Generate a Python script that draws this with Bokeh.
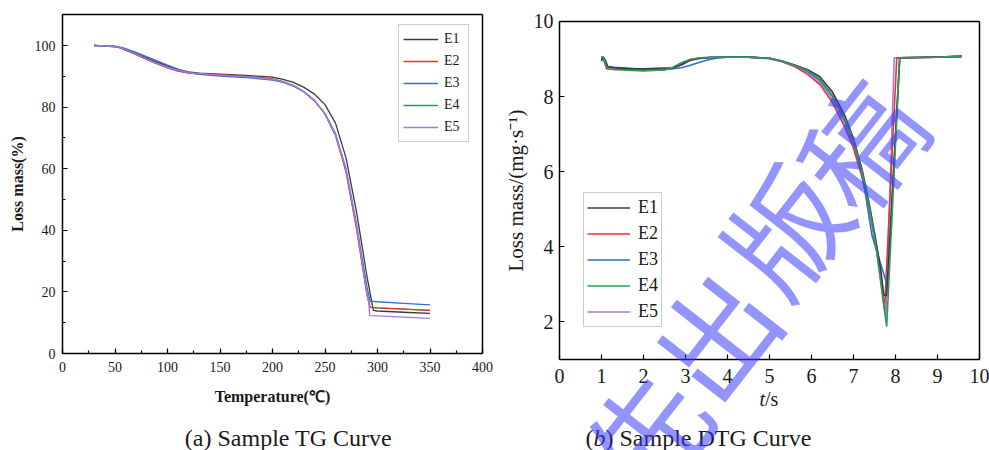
import math
from bokeh.plotting import figure
from bokeh.models import (Range1d, SingleIntervalTicker, FixedTicker, Label, Legend,
                          LegendItem, LinearAxis)
from bokeh.layouts import row
from bokeh.embed import file_html
from bokeh.resources import INLINE

SERIES = ["E1", "E2", "E3", "E4", "E5"]
COLORS = ["#3b3b3b", "#e0383c", "#2f6fd6", "#2e9a5c", "#a87adc"]

# ---------- (a) TG data: temperature (°C) vs loss mass (%) ----------
TG_T = {
    "E1": [30, 40, 50, 55, 60, 70, 80, 90, 100, 110, 120, 130, 150, 175, 200, 210, 220, 230, 240, 250, 260, 270, 280, 290, 296, 300, 325, 350],
    "E2": [30, 40, 50, 55, 60, 70, 80, 90, 100, 110, 120, 130, 150, 175, 200, 210, 220, 230, 240, 250, 260, 270, 280, 290, 293, 300, 325, 350],
    "E3": [30, 40, 50, 55, 60, 70, 80, 90, 100, 110, 120, 130, 150, 175, 200, 210, 220, 230, 240, 250, 260, 270, 280, 290, 293, 300, 325, 350],
    "E4": [30, 40, 50, 55, 60, 70, 80, 90, 100, 110, 120, 130, 150, 175, 200, 210, 220, 230, 240, 250, 260, 270, 280, 290, 293, 300, 325, 350],
    "E5": [30, 40, 50, 55, 60, 70, 80, 90, 100, 110, 120, 130, 150, 175, 200, 210, 220, 230, 240, 250, 260, 270, 280, 290, 291.7, 292.5, 300, 325, 350],
}
TG_V = {
    "E1": [100, 99.9, 99.7, 99.4, 98.8, 97.4, 96.0, 94.6, 93.3, 92.2, 91.4, 91.0, 90.7, 90.3, 89.7, 89.0, 88.0, 86.4, 84.2, 80.8, 74.8, 63.5, 46.0, 25.0, 14.0, 13.8, 13.4, 13.0],
    "E2": [100, 99.9, 99.6, 99.2, 98.5, 97.0, 95.5, 94.0, 92.7, 91.7, 91.0, 90.8, 90.5, 90.0, 89.2, 88.3, 87.0, 85.0, 82.2, 77.8, 70.8, 59.0, 40.5, 19.0, 15.0, 14.8, 14.4, 14.0],
    "E3": [100, 99.9, 99.8, 99.5, 99.0, 97.8, 96.4, 95.0, 93.6, 92.3, 91.3, 90.6, 90.1, 89.6, 88.8, 88.0, 86.8, 84.9, 82.0, 77.9, 71.4, 60.0, 42.0, 21.5, 17.0, 16.8, 16.3, 15.8],
    "E4": [100, 99.9, 99.6, 99.2, 98.6, 97.1, 95.6, 94.1, 92.8, 91.8, 91.1, 90.8, 90.5, 90.0, 89.1, 88.3, 87.0, 85.0, 82.1, 77.8, 70.9, 59.3, 41.0, 19.2, 15.0, 14.8, 14.4, 14.0],
    "E5": [100, 99.9, 99.6, 99.3, 98.7, 97.2, 95.7, 94.2, 92.9, 91.9, 91.2, 90.9, 90.4, 89.9, 89.0, 88.2, 87.0, 85.0, 82.1, 77.9, 71.0, 59.8, 41.5, 19.5, 16.7, 12.3, 12.2, 11.8, 11.4],
}

# ---------- (b) DTG data: time (s) vs loss mass rate (mg/s) ----------
DTG_T = {
    "E1": [1.0, 1.04, 1.1, 1.15, 1.3, 1.6, 2.0, 2.5, 2.7, 2.9, 3.1, 3.3, 3.6, 4.0, 4.5, 5.0, 5.3, 5.6, 5.9, 6.2, 6.5, 6.8, 7.0, 7.2, 7.4, 7.55, 7.65, 7.72, 7.79, 8.1, 8.5, 9.0, 9.58],
    "E2": [1.0, 1.05, 1.12, 1.3, 1.6, 2.0, 2.5, 2.7, 2.9, 3.1, 3.3, 3.6, 4.0, 4.5, 5.0, 5.3, 5.6, 5.9, 6.2, 6.5, 6.8, 7.0, 7.2, 7.4, 7.55, 7.65, 7.74, 8.03, 8.5, 9.0, 9.58],
    "E3": [1.0, 1.06, 1.12, 1.3, 1.6, 2.0, 2.5, 2.7, 2.9, 3.1, 3.3, 3.5, 3.75, 4.0, 4.5, 5.0, 5.3, 5.6, 5.9, 6.2, 6.5, 6.8, 7.0, 7.2, 7.44, 7.81, 8.1, 8.5, 9.0, 9.58],
    "E4": [1.0, 1.06, 1.13, 1.3, 1.6, 2.0, 2.5, 2.7, 2.9, 3.1, 3.3, 3.6, 4.0, 4.5, 5.0, 5.3, 5.6, 5.9, 6.2, 6.5, 6.8, 7.0, 7.2, 7.4, 7.55, 7.7, 7.79, 8.1, 8.5, 9.0, 9.58],
    "E5": [1.0, 1.05, 1.12, 1.3, 1.6, 2.0, 2.5, 2.7, 2.9, 3.1, 3.3, 3.6, 4.0, 4.5, 5.0, 5.3, 5.6, 5.9, 6.2, 6.5, 6.8, 7.0, 7.2, 7.4, 7.55, 7.7, 7.77, 7.97, 8.5, 9.0, 9.58],
}
DTG_V = {
    "E1": [8.95, 9.06, 8.95, 8.8, 8.77, 8.75, 8.74, 8.76, 8.76, 8.84, 8.96, 9.01, 9.04, 9.05, 9.05, 9.02, 8.95, 8.84, 8.72, 8.53, 8.12, 7.48, 6.88, 6.08, 5.0, 4.05, 3.38, 2.72, 2.70, 9.03, 9.04, 9.05, 9.07],
    "E2": [9.02, 9.0, 8.74, 8.72, 8.72, 8.7, 8.72, 8.76, 8.86, 8.97, 9.02, 9.04, 9.05, 9.05, 9.01, 8.93, 8.8, 8.6, 8.32, 7.84, 7.17, 6.62, 5.87, 4.87, 3.97, 3.22, 2.35, 9.03, 9.04, 9.05, 9.07],
    "E3": [9.05, 8.95, 8.8, 8.78, 8.76, 8.73, 8.72, 8.74, 8.77, 8.83, 8.9, 8.97, 9.03, 9.05, 9.05, 9.02, 8.94, 8.83, 8.68, 8.44, 8.0, 7.34, 6.8, 6.0, 4.3, 2.95, 9.03, 9.04, 9.05, 9.07],
    "E4": [9.08, 9.02, 8.74, 8.72, 8.7, 8.68, 8.71, 8.78, 8.9, 8.99, 9.03, 9.05, 9.05, 9.05, 9.02, 8.95, 8.83, 8.7, 8.47, 8.03, 7.4, 6.84, 6.02, 4.92, 3.92, 2.6, 1.88, 9.03, 9.04, 9.05, 9.07],
    "E5": [8.98, 9.05, 8.78, 8.75, 8.73, 8.71, 8.73, 8.77, 8.88, 8.98, 9.02, 9.04, 9.05, 9.05, 9.02, 8.94, 8.81, 8.65, 8.38, 7.92, 7.26, 6.7, 5.9, 4.86, 3.86, 2.7, 2.1, 9.03, 9.04, 9.05, 9.07],
}

WATERMARK = ["先", "出", "版", "稿"]

SERIF = "Liberation Serif"
INK = "#1a1a1a"


def style_axis(ax, tick_size, tick_in, minor_in):
    ax.axis_line_color = "black"
    ax.axis_line_width = 1.5
    ax.major_tick_line_color = "black"
    ax.major_tick_line_width = 1.2
    ax.minor_tick_line_color = "black"
    ax.minor_tick_line_width = 1.2
    ax.major_tick_in = tick_in
    ax.major_tick_out = 0
    ax.minor_tick_in = minor_in
    ax.minor_tick_out = 0
    ax.major_label_text_font = SERIF
    ax.major_label_text_font_size = tick_size
    ax.major_label_text_color = INK
    ax.axis_label_text_font = SERIF
    ax.axis_label_text_color = INK


def frame_edges(p, x_end, y_end, xbounds, ybounds):
    kw = dict(ticker=FixedTicker(ticks=[]), axis_line_width=1.5, axis_line_color="black",
              major_tick_in=0, major_tick_out=0, minor_tick_in=0, minor_tick_out=0)
    p.add_layout(LinearAxis(fixed_location=y_end, bounds=xbounds, **kw), "above")
    p.add_layout(LinearAxis(fixed_location=x_end, bounds=ybounds, **kw), "right")


# ================= Panel (a) =================
# the plot frame covers the whole canvas; axes are drawn at fixed data locations
p1 = figure(width=500, height=450, x_range=Range1d(-59.05, 417.14), y_range=Range1d(-31.49, 114.61),
            output_backend="svg", toolbar_location=None,
            min_border_left=0, min_border_right=0, min_border_top=0, min_border_bottom=0)
p1.xgrid.visible = False
p1.ygrid.visible = False
p1.outline_line_color = None
xa1, ya1 = p1.xaxis[0], p1.yaxis[0]
style_axis(xa1, "14px", 5, 3)
style_axis(ya1, "14px", 5, 3)
xa1.fixed_location = 0
ya1.fixed_location = 0
xa1.bounds = (0, 400)
ya1.bounds = (0, 110)
xa1.ticker = SingleIntervalTicker(interval=50, num_minor_ticks=2)
ya1.ticker = SingleIntervalTicker(interval=20, num_minor_ticks=2)
xa1.axis_label = "Temperature(℃)"
ya1.axis_label = "Loss mass(%)"
for ax in (xa1, ya1):
    ax.axis_label_text_font_style = "bold"
    ax.axis_label_text_font_size = "16px"
xa1.major_label_standoff = 8
ya1.major_label_standoff = 7
xa1.axis_label_standoff = 13
ya1.axis_label_standoff = 6
frame_edges(p1, 400, 110, (0, 400), (0, 110))

r1 = {}
for name in ["E4", "E1", "E2", "E3", "E5"]:
    c = COLORS[SERIES.index(name)]
    r1[name] = p1.line(TG_T[name], TG_V[name], line_color=c, line_width=1.3)

leg1 = Legend(items=[LegendItem(label=n, renderers=[r1[n]]) for n in SERIES],
              location=(398, 308))
leg1.label_text_font = SERIF
leg1.label_text_font_size = "14px"
leg1.label_text_color = INK
leg1.glyph_width = 35
leg1.glyph_height = 20
leg1.label_height = 20
leg1.spacing = 2
leg1.padding = 4
leg1.margin = 0
leg1.label_standoff = 6
leg1.border_line_color = "#9a9a9a"
leg1.border_line_width = 1
p1.add_layout(leg1)

p1.add_layout(Label(x=215.2, y=-27.3, text="(a) Sample TG Curve", text_font=SERIF,
                    text_font_size="24px", text_align="center", text_baseline="middle",
                    text_color=INK))

# ================= Panel (b) =================
p2 = figure(width=489, height=450, x_range=Range1d(-1.405, 10.238), y_range=Range1d(-1.423, 10.559),
            output_backend="svg", toolbar_location=None,
            min_border_left=0, min_border_right=0, min_border_top=0, min_border_bottom=0)
p2.xgrid.visible = False
p2.ygrid.visible = False
p2.outline_line_color = None
xa2, ya2 = p2.xaxis[0], p2.yaxis[0]
style_axis(xa2, "20px", 5, 0)
style_axis(ya2, "20px", 5, 0)
xa2.fixed_location = 1
ya2.fixed_location = 0
xa2.bounds = (0, 10)
ya2.bounds = (1, 10)
xa2.ticker = SingleIntervalTicker(interval=1, num_minor_ticks=0)
ya2.ticker = SingleIntervalTicker(interval=2, num_minor_ticks=0)
ya2.axis_label = "Loss mass/(mg·s⁻¹)"
ya2.axis_label_text_font_size = "21px"
ya2.axis_label_text_font_style = "normal"
xa2.major_label_standoff = 9
ya2.major_label_standoff = 6
ya2.axis_label_standoff = 3
frame_edges(p2, 10, 10, (0, 10), (1, 10))

r2 = {}
for name in ["E5", "E2", "E3", "E1", "E4"]:
    c = COLORS[SERIES.index(name)]
    r2[name] = p2.line(DTG_T[name], DTG_V[name], line_color=c, line_width=1.6)

leg2 = Legend(items=[LegendItem(label=n, renderers=[r2[n]]) for n in SERIES],
              location=(83, 123))
leg2.label_text_font = SERIF
leg2.label_text_font_size = "18px"
leg2.label_text_color = INK
leg2.glyph_width = 43
leg2.glyph_height = 23
leg2.label_height = 23
leg2.spacing = 3
leg2.padding = 3
leg2.margin = 0
leg2.label_standoff = 8
leg2.border_line_color = "#9a9a9a"
leg2.border_line_width = 1
p2.add_layout(leg2)

# x-axis title "t/s" with italic t
p2.add_layout(Label(x=4.893, y=-0.04, text="t", text_font=SERIF, text_font_style="italic",
                    text_font_size="20px", text_align="right", text_baseline="middle",
                    text_color=INK))
p2.add_layout(Label(x=4.893, y=-0.04, text="/s", text_font=SERIF,
                    text_font_size="20px", text_align="left", text_baseline="middle",
                    text_color=INK))

# caption "(b) Sample DTG Curve" with italic b
cap_y = -1.08
p2.add_layout(Label(x=(585 - 559) / 42, y=cap_y, text="(", text_font=SERIF,
                    text_font_size="24px", text_align="left", text_baseline="middle",
                    text_color=INK))
p2.add_layout(Label(x=(593 - 559) / 42, y=cap_y, text="b", text_font=SERIF, text_font_style="italic",
                    text_font_size="24px", text_align="left", text_baseline="middle",
                    text_color=INK))
p2.add_layout(Label(x=(605 - 559) / 42, y=cap_y, text=") Sample DTG Curve", text_font=SERIF,
                    text_font_size="24px", text_align="left", text_baseline="middle",
                    text_color=INK))

# watermark
wm_pos = [(2.0, -0.9), (3.62, 1.72), (5.3, 4.5), (7.1, 6.78)]
for ch, (wx, wy) in zip(WATERMARK, wm_pos):
    p2.add_layout(Label(x=wx, y=wy, text=ch, text_font="Noto Sans CJK SC",
                        text_font_size="118px", text_font_style="normal",
                        text_align="center", text_baseline="middle",
                        angle=math.radians(52), text_color="#3c3cff", text_alpha=0.55))

layout = row(p1, p2)
open("out.html", "w").write(file_html(layout, INLINE))
